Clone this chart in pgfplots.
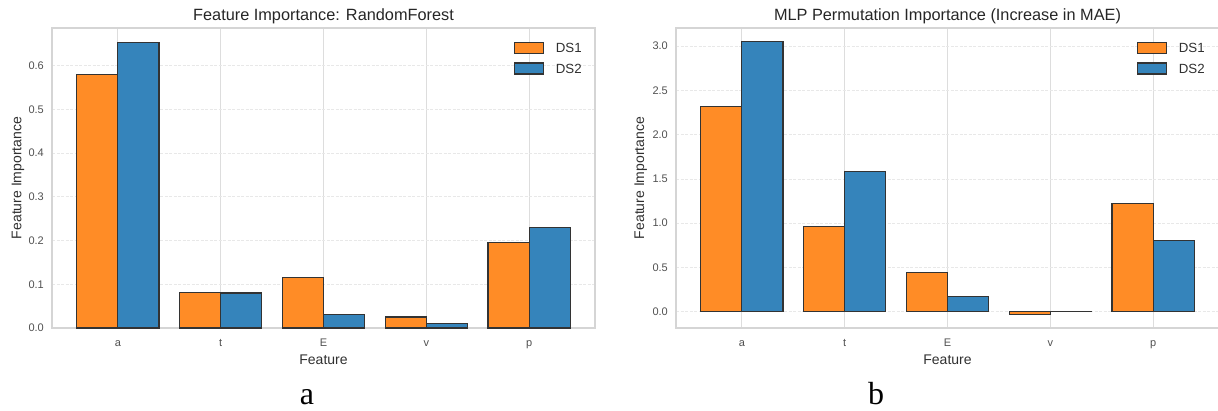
\documentclass[border=0pt]{standalone}
\usepackage{fontspec}
\setmainfont{Liberation Sans}
\newfontfamily\capfont{Liberation Serif}
\usepackage{pgfplots}
\pgfplotsset{compat=1.18}
\definecolor{dsorange}{HTML}{FF8C26}
\definecolor{dsblue}{HTML}{3584BB}
\definecolor{edgec}{HTML}{333333}
\definecolor{gridc}{HTML}{DDDDDD}
\definecolor{hgridc}{HTML}{E8E8E8}
\definecolor{framec}{HTML}{D5D5D5}
\definecolor{tickc}{HTML}{505050}
\definecolor{labc}{HTML}{303030}
\definecolor{titc}{HTML}{262626}

\pgfplotsset{
  fistyle/.style={
    scale only axis, width=543pt, height=300pt, anchor=south west,
    xmin=-0.64, xmax=4.64,
    xtick={0,1,2,3,4}, xticklabels={a,t,E,v,p},
    ybar,
    major tick length=0pt,
    xmajorgrids, ymajorgrids,
    major x grid style={gridc, line width=1.2pt},
    major y grid style={color=hgridc, line width=0.6pt, dash pattern=on 3pt off 1.5pt},
    axis line style={framec, line width=1.2pt},
    scaled y ticks=false,
    /pgf/number format/assume math mode=true,
    tick label style={font=\fontsize{11}{13}\selectfont, text=tickc},
    yticklabel style={anchor=east, inner sep=0pt, xshift=-8pt,
      /pgf/number format/fixed, /pgf/number format/fixed zerofill, /pgf/number format/precision=1},
    xticklabel style={anchor=base, inner sep=0pt, yshift=-18.7pt},
    xlabel={Feature}, ylabel={Feature Importance},
    every axis x label/.style={at={(axis description cs:0.5,-0.12)}, anchor=base,
      font=\fontsize{14}{16}\selectfont, text=labc},
    every axis title/.style={at={(axis description cs:0.5,1.0253)}, anchor=base,
      font=\fontsize{16.3}{19}\selectfont, text=titc},
    legend style={anchor=north west, draw=none, fill=none, inner sep=0pt,
      row sep=6.6pt, font=\fontsize{13.3}{15}\selectfont, text=labc,
      nodes={inner sep=0pt, text height=10pt, text depth=3pt},
      /tikz/every odd column/.style={column sep=11.4pt}},
    legend cell align=left,
  },
  barimg/.style={legend image code/.code={\draw[##1, line width=1.2pt] (0pt,-4.2pt) rectangle (29pt,6.8pt);}},
  ds1/.style={fill=dsorange, draw=edgec, line width=1.2pt, bar width=41.14pt, bar shift=-20.57pt, barimg},
  ds2/.style={fill=dsblue, draw=edgec, line width=1.2pt, bar width=41.14pt, bar shift=20.57pt, barimg},
}

\begin{document}
\begin{tikzpicture}
\useasboundingbox (0pt,0pt) rectangle (1218pt,410pt);

\begin{axis}[fistyle, at={(52pt,82pt)},
  ymin=0, ymax=0.6857,
  ytick={0,0.1,0.2,0.3,0.4,0.5,0.6},
  title={Feature Importance: RandomForest},
  every axis y label/.style={at={(axis description cs:-0.0562,0.5)}, rotate=90, anchor=base,
      font=\fontsize{14}{16}\selectfont, text=labc},
  legend style={at={(axis description cs:0.8508,0.9543)}},
]
\addplot[ds1] coordinates {(0,0.580) (1,0.082) (2,0.115) (3,0.025) (4,0.196)};
\addplot[ds2] coordinates {(0,0.653) (1,0.080) (2,0.030) (3,0.010) (4,0.229)};
\legend{DS1,DS2}
\end{axis}

\begin{axis}[fistyle, at={(676pt,82pt)},
  ymin=-0.184, ymax=3.204,
  ytick={0,0.5,1,1.5,2,2.5,3},
  title={MLP Permutation Importance (Increase in MAE)},
  every axis y label/.style={at={(axis description cs:-0.0589,0.5)}, rotate=90, anchor=base,
      font=\fontsize{14}{16}\selectfont, text=labc},
  legend style={at={(axis description cs:0.849,0.9543)}},
]
\addplot[ds1] coordinates {(0,2.320) (1,0.965) (2,0.446) (3,-0.030) (4,1.226)};
\addplot[ds2] coordinates {(0,3.050) (1,1.585) (2,0.170) (3,0.003) (4,0.806)};
\legend{DS1,DS2}
\end{axis}

\node[font=\capfont\fontsize{32}{36}\selectfont, anchor=base, inner sep=0pt] at (307pt,6pt) {a};
\node[font=\capfont\fontsize{32}{36}\selectfont, anchor=base, inner sep=0pt] at (876pt,6pt) {b};
\end{tikzpicture}
\end{document}
